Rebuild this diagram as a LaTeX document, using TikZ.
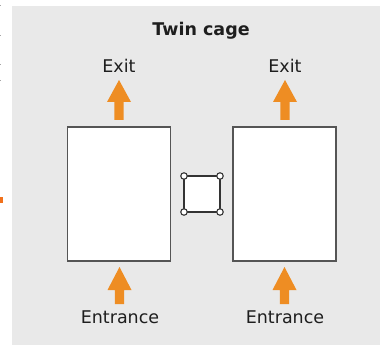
\documentclass[tikz,border=0pt]{standalone}
\usepackage{fontspec}
\setmainfont{DejaVu Sans}
\definecolor{bggray}{RGB}{233,233,233}
\definecolor{arrorange}{RGB}{238,141,35}
\definecolor{boxline}{RGB}{85,85,85}
\definecolor{txt}{RGB}{30,30,30}
\begin{document}
\begin{tikzpicture}[x=1pt,y=-1pt,
  cagebox/.style={draw=boxline,line width=1.4pt,fill=white},
  lbl/.style={font=\fontsize{17.5}{20}\selectfont,text=txt,inner sep=0pt,anchor=base},
  ttl/.style={font=\fontsize{17.5}{20}\selectfont\bfseries,text=txt,inner sep=0pt,anchor=base},
  blockarrow/.style={fill=arrorange,draw=none},
  wire/.style={draw=black!80,line width=1.3pt},
  post/.style={circle,draw=black!80,line width=1.1pt,fill=white,minimum size=6.5pt,inner sep=0pt}]
\useasboundingbox (0,0) rectangle (382,347);
\fill[white] (0,0) rectangle (382,347);
\fill[bggray] (12,6) rectangle (380,345);
% small artefacts at the left margin
\fill[arrorange!80!red] (0,197) rectangle (3,203);
\foreach \yy in {5,35,64,80} \fill[black!35] (0,\yy) rectangle (1.2,\yy+1);
% title
\node[ttl] (title) at (201,35.5) {Twin cage};
% cages
\node[cagebox,minimum width=103pt,minimum height=134pt,inner sep=0pt] (cageL) at (119,194) {};
\node[cagebox,minimum width=103pt,minimum height=134pt,inner sep=0pt] (cageR) at (284.5,194) {};
% connecting tunnel square
\coordinate (c1) at (184,176);
\coordinate (c2) at (220,176);
\coordinate (c3) at (220,212);
\coordinate (c4) at (184,212);
\fill[white] (c1) rectangle (c3);
\draw[wire] (c1) -- (c2) -- (c3) -- (c4) -- cycle;
\foreach \c in {c1,c2,c3,c4} \node[post] at (\c) {};
% labels
\node[lbl] (exitL) at (119,73) {Exit};
\node[lbl] (exitR) at (285,73) {Exit};
\node[lbl] (entL) at (120,323) {Entrance};
\node[lbl] (entR) at (285,323) {Entrance};
% arrows
\foreach \cx/\tip/\base/\tail in {119/80/102/120, 285/80/102/120, 119.5/267/290/304, 284.5/267/290/304}{
  \fill[blockarrow] (\cx,\tip) -- (\cx+12,\base) -- (\cx+4.7,\base) -- (\cx+4.7,\tail)
     -- (\cx-4.7,\tail) -- (\cx-4.7,\base) -- (\cx-12,\base) -- cycle;
}
\end{tikzpicture}
\end{document}
